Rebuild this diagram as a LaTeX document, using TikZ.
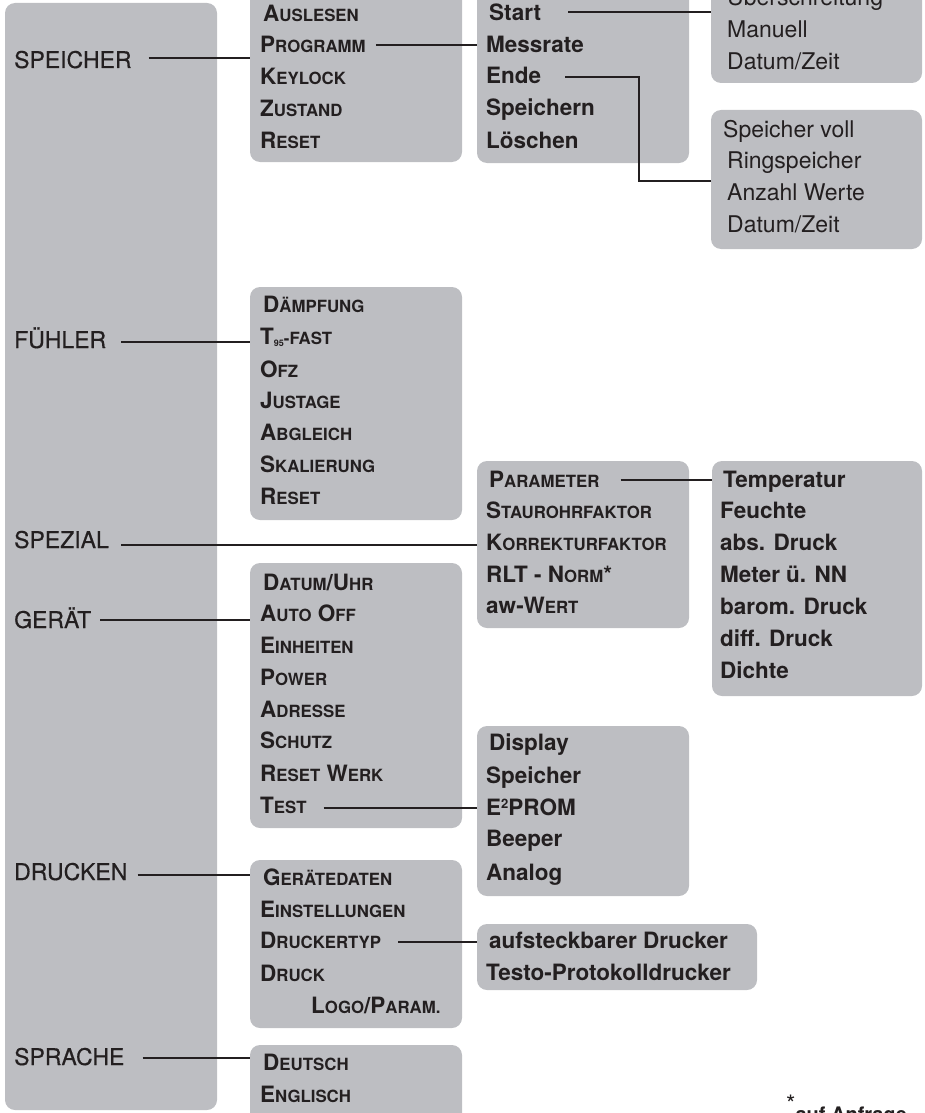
\documentclass[tikz,border=0pt]{standalone}
\usepackage{fontspec}
\setmainfont{TeX Gyre Heros}
\newfontfamily\medfont{TeX Gyre Heros}[FakeBold=0.5]
\usetikzlibrary{calc}
\definecolor{boxgray}{RGB}{189,190,194}
\definecolor{ink}{RGB}{35,31,32}
\newcommand\smc[1]{{\fontsize{16.8}{17}\selectfont #1}}
\begin{document}
\begin{tikzpicture}[x=1pt,y=-1pt,
  box/.style={fill=boxgray, rounded corners=10pt, draw=none, inner sep=0pt, outer sep=0pt, anchor=north west},
  lbl/.style={font=\fontsize{23}{24}\selectfont\medfont, text=ink, inner sep=0pt, anchor=base west},
  itm/.style={font=\fontsize{22.5}{24}\selectfont\bfseries, text=ink, inner sep=0pt, anchor=base west},
  lite/.style={font=\fontsize{23}{24}\selectfont, text=ink, inner sep=0pt, anchor=base west},
  conn/.style={draw=ink, line width=2pt}]
\useasboundingbox (0,0) rectangle (924,1113);
\clip (0,0) rectangle (924,1113);
% boxes
\node[box, minimum width=212pt, minimum height=1107pt] (main) at (5,3) {};
\node[box, minimum width=212pt, minimum height=172pt] (b2) at (250,-10) {};
\node[box, minimum width=212pt, minimum height=173pt] (b3) at (477,-10) {};
\node[box, minimum width=211pt, minimum height=93pt] (b4) at (711,-10) {};
\node[box, minimum width=211pt, minimum height=139pt] (b5) at (711,110) {};
\node[box, minimum width=212pt, minimum height=233pt] (bf) at (250,287) {};
\node[box, minimum width=212pt, minimum height=167pt] (bs) at (477,461) {};
\node[box, minimum width=210pt, minimum height=235pt] (bp) at (712,461) {};
\node[box, minimum width=212pt, minimum height=265pt] (bg) at (250,563) {};
\node[box, minimum width=212pt, minimum height=170pt] (bt) at (477,726) {};
\node[box, minimum width=212pt, minimum height=168pt] (bd) at (250,860) {};
\node[box, minimum width=280pt, minimum height=66pt] (bdt) at (477,924) {};
\node[box, minimum width=212pt, minimum height=80pt] (bsp) at (250,1045) {};
% left labels
\node[lbl] (speicher) at (14,68) {SPEICHER};
\node[lbl] (fuehler) at (14,348) {FÜHLER};
\node[lbl] (spezial) at (14,548) {SPEZIAL};
\node[lbl] (geraet) at (14,628) {GERÄT};
\node[lbl] (drucken) at (14,880) {DRUCKEN};
\node[lbl] (sprache) at (14,1065) {SPRACHE};
% speicher menu
\node[itm] (auslesen) at (263,22) {A\smc{USLESEN}};
\node[itm] (programm) at (260,53) {P\smc{ROGRAMM}};
\node[itm] (keylock) at (260,85) {K\smc{EYLOCK}};
\node[itm] (zustand) at (260,117) {Z\smc{USTAND}};
\node[itm] (reset1) at (260,148) {R\smc{ESET}};
% programm menu
\node[itm] (start) at (489,21) {Start};
\node[itm] (messrate) at (486,53) {Messrate};
\node[itm] (ende) at (486,84) {Ende};
\node[itm] (speichern) at (486,116) {Speichern};
\node[itm] (loeschen) at (486,148) {Löschen};
% start menu
\node[lite] (ueber) at (727,6) {Überschreitung};
\node[lite] (manuell) at (727,38) {Manuell};
\node[lite] (datzeit1) at (727,70) {Datum/Zeit};
% ende menu
\node[lite] (voll) at (723,137) {Speicher voll};
\node[lite] (ring) at (727,168) {Ringspeicher};
\node[lite] (anzahl) at (727,200) {Anzahl Werte};
\node[lite] (datzeit2) at (727,232) {Datum/Zeit};
% fuehler menu
\node[itm] (daempf) at (263,312) {D\smc{ÄMPFUNG}};
\node[itm] (tfast) at (260,344) {T{\fontsize{9}{9}\selectfont\raisebox{-2.5pt}{95}}\smc{-FAST}};
\node[itm] (ofz) at (260,377) {O\smc{FZ}};
\node[itm] (justage) at (260,408) {J\smc{USTAGE}};
\node[itm] (abgleich) at (260,440) {A\smc{BGLEICH}};
\node[itm] (skal) at (260,472) {S\smc{KALIERUNG}};
\node[itm] (reset2) at (260,504) {R\smc{ESET}};
% spezial menu
\node[itm] (parameter) at (489,487) {P\smc{ARAMETER}};
\node[itm] (stau) at (486,518) {S\smc{TAUROHRFAKTOR}};
\node[itm] (korr) at (486,550) {K\smc{ORREKTURFAKTOR}};
\node[itm] (rlt) at (486,582) {RLT - N\smc{ORM}*};
\node[itm] (aw) at (486,613) {aw-W\smc{ERT}};
% parameter menu
\node[itm] (temp) at (723,487) {Temperatur};
\node[itm] (feuchte) at (720,518) {Feuchte};
\node[itm] (abs) at (720,550) {abs. Druck};
\node[itm] (meter) at (720,582) {Meter ü. NN};
\node[itm] (barom) at (720,614) {barom. Druck};
\node[itm] (diff) at (720,646) {diff. Druck};
\node[itm] (dichte) at (720,678) {Dichte};
% geraet menu
\node[itm] (datuhr) at (263,590) {D\smc{ATUM}/U\smc{HR}};
\node[itm] (autooff) at (260,621) {A\smc{UTO} O\smc{FF}};
\node[itm] (einh) at (260,653) {E\smc{INHEITEN}};
\node[itm] (power) at (260,685) {P\smc{OWER}};
\node[itm] (adresse) at (260,717) {A\smc{DRESSE}};
\node[itm] (schutz) at (260,748) {S\smc{CHUTZ}};
\node[itm] (resetw) at (260,781) {R\smc{ESET} W\smc{ERK}};
\node[itm] (test) at (260,813) {T\smc{EST}};
% test menu
\node[itm] (display) at (489,750) {Display};
\node[itm] (speicher2) at (486,783) {Speicher};
\node[itm] (eprom) at (486,815) {E{\fontsize{13}{13}\selectfont\raisebox{7pt}{2}}PROM};
\node[itm] (beeper) at (486,846) {Beeper};
\node[itm] (analog) at (486,880) {Analog};
% drucken menu
\node[itm] (geraetedaten) at (263,885) {G\smc{ERÄTEDATEN}};
\node[itm] (einst) at (260,917) {E\smc{INSTELLUNGEN}};
\node[itm] (druckertyp) at (260,948) {D\smc{RUCKERTYP}};
\node[itm] (druck) at (260,981) {D\smc{RUCK}};
\node[itm] (logo) at (311,1013) {L\smc{OGO}/P\smc{ARAM.}};
% druckertyp menu
\node[itm] (aufst) at (489,948) {aufsteckbarer Drucker};
\node[itm] (testo) at (486,980) {Testo-Protokolldrucker};
% sprache menu
\node[itm] (deutsch) at (263,1070) {D\smc{EUTSCH}};
\node[itm] (englisch) at (260,1102) {E\smc{NGLISCH}};
% footnote
\node[itm, font=\fontsize{20}{22}\selectfont\bfseries] (fn) at (786,1121) {{\fontsize{24}{24}\mdseries\raisebox{9pt}{*}}auf Anfrage};
% connectors
\draw[conn] ($(speicher.base east)+(17,-10)$) -- ($(speicher.base east -| b2.west)+(0,-10)$);
\draw[conn] ($(programm.base east)+(10,-8)$) -- ($(programm.base east -| b3.west)+(0,-8)$);
\draw[conn] ($(start.base east)+(27,-9)$) -- ($(start.base east -| b4.west)+(0,-9)$);
\coordinate (ebend) at (639,181);
\draw[conn] ($(ende.base east)+(24,-7)$) -| (ebend) -- (ebend -| b5.west);
\draw[conn] ($(fuehler.base east)+(15,-6)$) -- ($(fuehler.base east -| bf.west)+(0,-6)$);
\draw[conn] ($(spezial.base east)+(12,-3)$) -- ($(spezial.base east -| bs.west)+(0,-3)$);
\draw[conn] ($(parameter.base east)+(21,-7)$) -- ($(parameter.base east -| bp.west)+(0,-7)$);
\draw[conn] ($(geraet.base east)+(9,-8)$) -- ($(geraet.base east -| bg.west)+(0,-8)$);
\draw[conn] ($(test.base east)+(17,-5)$) -- ($(test.base east -| bt.west)+(0,-5)$);
\draw[conn] ($(drucken.base east)+(10,-5)$) -- ($(drucken.base east -| bd.west)+(0,-5)$);
\draw[conn] ($(druckertyp.base east)+(17,-6)$) -- ($(druckertyp.base east -| bdt.west)+(0,-6)$);
\draw[conn] ($(sprache.base east)+(18,-7)$) -- ($(sprache.base east -| bsp.west)+(0,-7)$);
\end{tikzpicture}
\end{document}
